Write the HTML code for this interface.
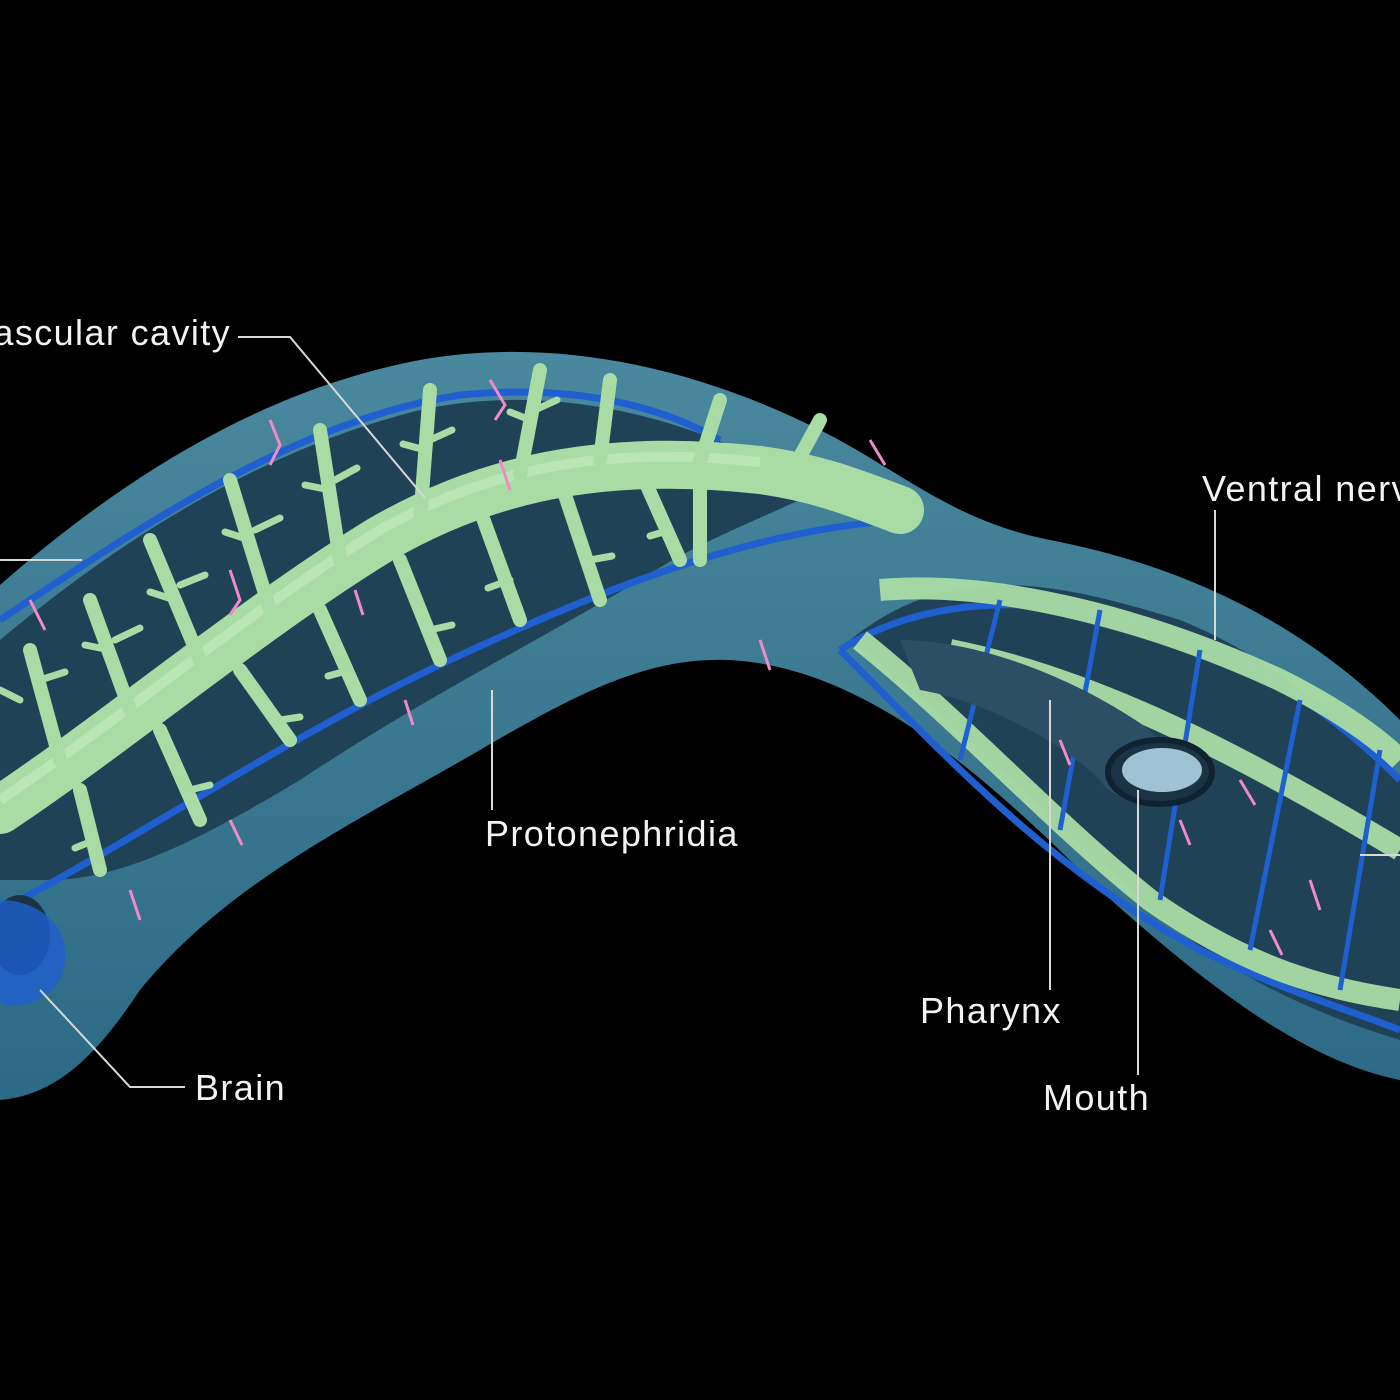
<!DOCTYPE html>
<html><head><meta charset="utf-8"><style>
html,body{margin:0;padding:0;background:#000;}
svg{display:block}
text{font-family:"Liberation Sans",sans-serif;fill:#f2f2f2;font-size:36px;letter-spacing:1.4px}
</style></head><body>
<svg width="1400" height="1400" viewBox="0 0 1400 1400" xmlns="http://www.w3.org/2000/svg">
<rect width="1400" height="1400" fill="#000"/>
<defs>
<linearGradient id="bg" x1="0" y1="0" x2="0" y2="1">
<stop offset="0" stop-color="#4d8fa6"/><stop offset="1" stop-color="#2f6f8c"/></linearGradient>
</defs>
<path d="M0,585 C120,480 260,390 420,360 C560,335 700,370 820,430 C900,470 950,520 1050,540 C1180,565 1300,620 1400,720 L1400,1080 C1300,1060 1200,980 1100,890 C1000,790 900,700 790,670 C680,640 600,680 480,750 C360,820 230,880 140,990 C100,1050 60,1095 0,1100 Z" fill="url(#bg)" opacity="0.95"/>
<path d="M0,640 C120,540 260,450 420,410 C560,380 700,420 820,490 C760,520 700,540 640,580 C540,640 420,700 300,780 C200,840 120,880 50,880 L0,880 Z" fill="#1f4256"/>
<path d="M850,640 C950,560 1050,580 1180,620 C1280,660 1350,730 1400,780 L1400,1040 C1300,1010 1200,960 1120,880 C1020,790 930,700 850,640 Z" fill="#1f4256"/>
<g fill="none" stroke="#1f5fd0" stroke-width="7">
<path d="M0,620 C150,520 300,420 460,395 C560,385 650,400 720,440"/>
<path d="M20,900 C150,830 300,730 450,660 C600,590 750,530 900,520"/>
<path d="M840,650 C950,580 1100,600 1220,650 C1300,690 1360,740 1400,780"/>
<path d="M840,650 C950,760 1050,870 1200,950 C1280,990 1350,1010 1400,1030"/>
</g>
<g fill="none" stroke="#a9dca4" stroke-width="22" opacity="0.95">
<path d="M880,590 C1000,580 1150,620 1280,680 C1340,710 1380,740 1400,760"/>
<path d="M860,640 C960,720 1050,820 1150,900 C1250,970 1330,990 1400,1000"/>
<path d="M950,650 C1100,680 1250,760 1400,850"/>
</g>
<g stroke="#1f5fd0" stroke-width="5" fill="none">
<path d="M1000,600 L960,760 M1100,610 L1060,830 M1200,650 L1160,900 M1300,700 L1250,950 M1380,750 L1340,990"/>
</g>
<path d="M900,640 C980,640 1080,680 1150,730 L1200,790 C1150,810 1110,800 1100,780 C1060,740 980,700 920,690 Z" fill="#2c4f66"/>
<ellipse cx="1160" cy="772" rx="52" ry="32" fill="#1a3446" stroke="#0f2230" stroke-width="6"/>
<ellipse cx="1162" cy="770" rx="40" ry="22" fill="#9fc3d2"/>
<path d="M0,810 C120,730 250,620 380,540 C500,470 620,455 760,470 C820,478 860,495 900,510" fill="none" stroke="#a9dca4" stroke-width="48" stroke-linecap="round"/>
<path d="M0,800 C120,720 250,610 380,530 C500,462 620,447 760,462" fill="none" stroke="#c7ecc0" stroke-width="10" opacity="0.6"/>
<g stroke="#a9dca4" stroke-width="14" stroke-linecap="round" fill="none">
<path d="M60,760 L30,650 M130,710 L90,600 M200,660 L150,540 M270,610 L230,480 M340,560 L320,430 M420,520 L430,390 M520,475 L540,370 M600,460 L610,380 M700,462 L720,400 M790,475 L820,420"/>
<path d="M80,790 L100,870 M160,730 L200,820 M240,670 L290,740 M320,610 L360,700 M400,560 L440,660 M480,510 L520,620 M560,480 L600,600 M640,470 L680,560 M700,470 L700,560"/>
</g>
<g stroke="#a9dca4" stroke-width="7" stroke-linecap="round" fill="none">
<path d="M20,700 l-20,-10 M40,680 l25,-8 M110,650 l-25,-5 M115,640 l25,-12 M175,600 l-25,-8 M180,585 l25,-10 M250,540 l-25,-8 M255,530 l25,-12 M330,490 l-25,-5 M335,480 l22,-12 M425,450 l-22,-6 M430,440 l22,-10 M530,420 l-20,-8 M535,410 l22,-10"/>
<path d="M95,840 l-20,8 M190,790 l20,-5 M280,720 l20,-3 M350,670 l-22,6 M430,630 l22,-5 M510,580 l-22,8 M590,560 l22,-4 M670,530 l-20,6"/>
</g>
<g stroke="#f08ac8" stroke-width="3" fill="none">
<path d="M270,420 l10,25 l-10,20 M490,380 l15,25 l-10,15 M500,460 l10,30 M230,570 l10,30 l-10,15 M30,600 l15,30 M355,590 l8,25 M405,700 l8,25 M230,820 l12,25 M130,890 l10,30 M760,640 l10,30 M870,440 l15,25 M1060,740 l10,25 M1180,820 l10,25 M1240,780 l15,25 M1310,880 l10,30 M1270,930 l12,25"/>
</g>
<ellipse cx="20" cy="935" rx="30" ry="40" fill="#1a3446"/>
<path d="M0,900 C40,900 80,930 60,980 C40,1010 0,1010 0,1000 Z" fill="#1f5fd0" opacity="0.8"/>
<g stroke="#d8d8d8" stroke-width="2" fill="none">
<path d="M238,337 L290,337 L425,498"/>
<path d="M0,560 L82,560"/>
<path d="M1215,510 L1215,640"/>
<path d="M492,810 L492,690"/>
<path d="M1050,990 L1050,700"/>
<path d="M1138,1075 L1138,790"/>
<path d="M185,1087 L130,1087 L40,990"/>
<path d="M1360,855 L1400,855"/>
</g>
<text x="-26" y="345">vascular cavity</text>
<text x="1202" y="501">Ventral nerv</text>
<text x="485" y="846">Protonephridia</text>
<text x="920" y="1023">Pharynx</text>
<text x="1043" y="1110">Mouth</text>
<text x="195" y="1100">Brain</text>
</svg>
</body></html>
